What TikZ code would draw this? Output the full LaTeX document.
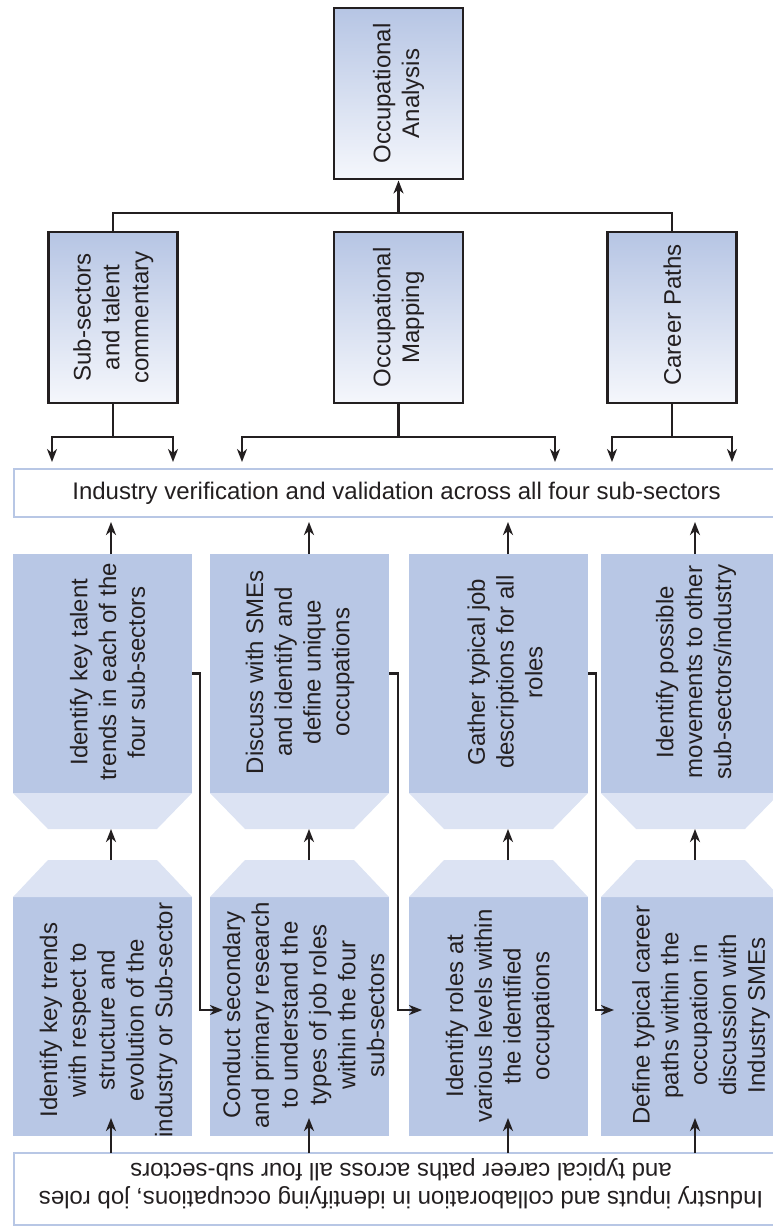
\documentclass[tikz,border=0pt]{standalone}
\usepackage{fontspec}
\setmainfont{Liberation Sans}
\usetikzlibrary{arrows.meta,calc}
\definecolor{ink}{HTML}{231F20}
\definecolor{blk}{HTML}{B8C7E5}
\definecolor{blklight}{HTML}{DCE3F3}
\definecolor{edgeblue}{HTML}{B8C7E5}
\definecolor{shadetop}{HTML}{B6C5E4}
\definecolor{shadebot}{HTML}{F5F7FC}

\begin{document}
\begin{tikzpicture}[x=1pt,y=-1pt,
  every node/.style={inner sep=0pt, outer sep=0pt, text=ink},
  txt/.style={font=\fontsize{24}{28.8}\selectfont, align=center},
  headbox/.style={draw=ink, line width=2.8pt, top color=shadetop, bottom color=shadebot,
                  minimum width=129pt, minimum height=171pt},
  block/.style={fill=blk, minimum width=179pt, minimum height=239pt},
  wide/.style={draw=edgeblue, line width=2.2pt, fill=white, minimum width=765pt},
  link/.style={draw=ink, line width=2.3pt},
  arr/.style={link, -{Stealth[length=13pt,width=10pt,inset=4pt]}},
]
\useasboundingbox (0,0) rectangle (773,1227);

% ---------- heading boxes ----------
\node[headbox] (oa) at (398.5,93.5) {};
\node[txt, rotate=90] (oa-t) at (398.5,93.5) {Occupational\\Analysis};

\node[headbox] (s1) at (113.25,317.5) {};
\node[txt, rotate=90] (s1-t) at (113.25,317.5) {Sub-sectors\\and talent\\commentary};
\node[headbox] (s2) at (398.5,317.5) {};
\node[txt, rotate=90] (s2-t) at (398.5,317.5) {Occupational\\Mapping};
\node[headbox] (s3) at (672.25,317.5) {};
\node[txt, rotate=90] (s3-t) at (672.25,315) {Career Paths};

% ---------- verification band ----------
\node[wide, minimum height=48pt] (ver) at (396.5,493) {};
\node[font=\fontsize{24}{28}\selectfont] (ver-t) at (396.5,493)
  {Industry verification and validation across all four sub-sectors};

% ---------- upper step blocks with tapered feet ----------
\foreach \n/\cx in {u1/102.5, u2/299.5, u3/498.5, u4/690.5} {
  \node[block] (\n) at (\cx,673.5) {};
  \fill[blklight] (\n.south west) -- (\n.south east)
    -- ($(\n.south east)+(-35,36)$) -- ($(\n.south west)+(35,36)$) -- cycle;
}
\node[txt, rotate=90] (u1-t) at (107.5,672) {Identify key talent\\trends in each of the\\four sub-sectors};
\node[txt, rotate=90] (u2-t) at (300,672) {Discuss with SMEs\\and identify and\\define unique\\occupations};
\node[txt, rotate=90] (u3-t) at (505,672) {Gather typical job\\descriptions for all\\roles};
\node[txt, rotate=90] (u4-t) at (696,672) {Identify possible\\movements to other\\sub-sectors/industry};

% ---------- lower step blocks with tapered heads ----------
\foreach \n/\cx in {l1/102.5, l2/299.5, l3/498.5, l4/690.5} {
  \node[block] (\n) at (\cx,1016.5) {};
  \fill[blklight] (\n.north west) -- (\n.north east)
    -- ($(\n.north east)+(-35,-37)$) -- ($(\n.north west)+(35,-37)$) -- cycle;
}
\begin{scope}
  \clip (l1.south west) rectangle (l1.north east);
  \node[txt, rotate=90] (l1-t) at (108.5,1020) {Identify key trends\\with respect to\\structure and\\evolution of the\\industry or Sub-sector};
\end{scope}
\node[txt, rotate=90] (l2-t) at (303.5,1015) {Conduct secondary\\and primary research\\to understand the\\types of job roles\\within the four\\sub-sectors};
\node[txt, rotate=90] (l3-t) at (500,1016) {Identify roles at\\various levels within\\the identified\\occupations};
\node[txt, rotate=90] (l4-t) at (701,1015) {Define typical career\\paths within the\\occupation in\\discussion with\\Industry SMEs};

% ---------- input band ----------
\node[wide, minimum height=72pt] (inp) at (396.5,1189) {};
\node[font=\fontsize{24}{28}\selectfont, align=center, rotate=180] (inp-t) at (401,1184)
  {Industry inputs and collaboration in identifying occupations, job roles\\and typical career paths across all four sub-sectors};

% ---------- heading tree ----------
\coordinate (jn) at (398.5,213);
\draw[link] (s1.north) |- (jn) -| (s3.north);
\draw[arr, shorten >=1.5pt] (jn) -- (oa.south);

% ---------- fan-out brackets ----------
\coordinate (b1) at (113.25,437);
\coordinate (b1l) at (52,462);
\coordinate (b1r) at (173,462);
\coordinate (b2) at (398.5,437);
\coordinate (b2l) at (242,462);
\coordinate (b2r) at (555,462);
\coordinate (b3) at (672.25,437);
\coordinate (b3l) at (612,462);
\coordinate (b3r) at (732,462);
\draw[link] (s1.south) -- (b1);
\draw[link] (s2.south) -- (b2);
\draw[link] (s3.south) -- (b3);
\foreach \b in {b1,b2,b3} {
  \draw[arr] (\b) -| (\b l);
  \draw[arr] (\b) -| (\b r);
}

% ---------- column arrows ----------
\coordinate (a1) at (111,0);
\coordinate (a2) at (309,0);
\coordinate (a3) at (508,0);
\coordinate (a4) at (695,0);
\foreach \i in {1,2,3,4} {
  \draw[arr, shorten >=5pt] (u\i.north -| a\i) -- (ver.south -| a\i);
  \draw[arr] ($(l\i.north -| a\i)+(0,-37)$) -- ($(u\i.south -| a\i)+(0,36)$);
  \draw[arr] (inp.north -| a\i) -- ($(l\i.south -| a\i)+(0,-18)$);
}

% ---------- hand-over elbows ----------
\coordinate (v1) at (200,1010);
\coordinate (e1) at (223,1010);
\coordinate (v2) at (398,1010);
\coordinate (e2) at (422,1010);
\coordinate (v3) at (596,1010);
\coordinate (e3) at (614,1010);
\draw[arr] (u1.east) -| (v1) -- (e1);
\draw[arr] (u2.east) -| (v2) -- (e2);
\draw[arr] (u3.east) -| (v3) -- (e3);

\end{tikzpicture}
\end{document}
